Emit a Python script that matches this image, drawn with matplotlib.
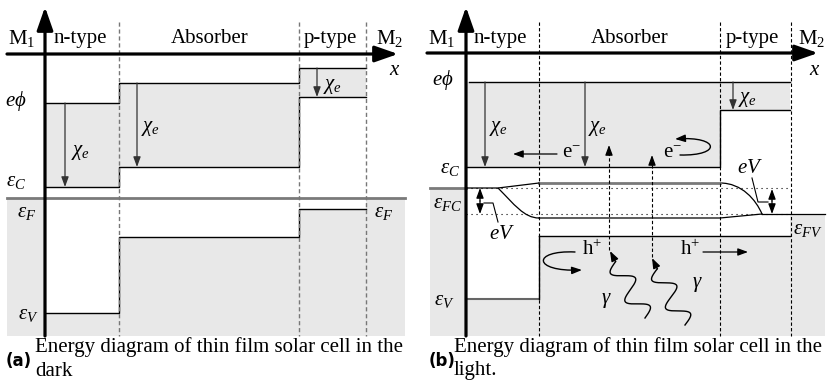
import numpy as np
import matplotlib.pyplot as plt
from matplotlib.patches import FancyArrowPatch, PathPatch
from matplotlib.path import Path

plt.rcParams['font.family'] = ['Liberation Serif', 'DejaVu Serif']
plt.rcParams['mathtext.fontset'] = 'custom'
plt.rcParams['mathtext.rm'] = 'Liberation Serif'
plt.rcParams['mathtext.it'] = 'Liberation Serif:italic'
plt.rcParams['mathtext.bf'] = 'Liberation Serif:bold'

FILL = '#e8e8e8'
FS = 15

# layer names across the top
layers = ['M$_1$', 'n-type', 'Absorber', 'p-type', 'M$_2$']

# (a) dark -- level positions (y grows downwards, image-like)
a_edges = [45, 119, 299, 366]       # axis | n | absorber | p | M2
a_vac = [103, 83, 68]                # e*phi per layer
a_cb = [187, 167, 97]                # conduction band
a_vb = [313, 237, 209]               # valence band
a_ef = 198                           # common Fermi level
a_name_x = [22, 80, 210, 330, 390]

# (b) light
b_edges = [466, 539, 720, 790]
b_vac = [82, 82, 82]
b_cb = [167, 167, 110]
b_vb = [299, 236, 236]
b_efc = [188, 183]                   # electron quasi-Fermi: contact, absorber
b_efv = [214, 218]                   # hole quasi-Fermi: contact, absorber
b_name_x = [442, 500, 630, 752, 812]

fig = plt.figure(figsize=(8.32, 3.92), dpi=100)
ax = fig.add_axes([0, 0, 1, 1])
ax.set_xlim(0, 832)
ax.set_ylim(392, 0)
ax.axis('off')


def ext(v):
    return list(v) + [v[-1]]


def arrow(p0, p1, lw=0.9, ms=10, style='-|>,head_length=0.6,head_width=0.22', color='k', z=5):
    ax.annotate('', xy=p1, xytext=p0,
                arrowprops=dict(arrowstyle=style, lw=lw, color=color, mutation_scale=ms,
                                shrinkA=0, shrinkB=0), zorder=z)


def axis_arrows(x0, x1, xa, y_top, y_bot, yx):
    st = '-|>,head_length=1.0,head_width=0.35'
    arrow((x0, yx), (x1, yx), lw=2.3, ms=14, style=st)
    arrow((xa, y_bot), (xa, y_top), lw=2.3, ms=14, style=st)


def bez(pts, **kw):
    p = Path(pts, [Path.MOVETO, Path.CURVE4, Path.CURVE4, Path.CURVE4])
    ax.add_patch(PathPatch(p, fc='none', **kw))


def loop(pts):
    p = Path(pts, [Path.MOVETO, Path.CURVE4, Path.CURVE4, Path.CURVE4])
    ax.add_patch(FancyArrowPatch(path=p, arrowstyle='-|>,head_length=0.6,head_width=0.22',
                                 mutation_scale=10, lw=1, color='k'))


def photon(tail, head, waves=2.0, amp=10):
    # wiggly photon line, straight bit + arrowhead at the end
    tail = np.array(tail, float)
    head = np.array(head, float)
    d = head - tail
    L = np.hypot(*d)
    u = d / L
    n = np.array([-u[1], u[0]])
    s = np.linspace(0, L - 12, 200)
    off = amp * np.sin(2 * np.pi * waves * s / (L - 12))
    pts = tail + np.outer(s, u) + np.outer(off, n)
    ax.plot(pts[:, 0], pts[:, 1], color='k', lw=1)
    arrow(tuple(pts[-1]), tuple(head), lw=1)


# ================= panel (a) =================
ax.fill_between(a_edges, ext(a_vac), ext(a_cb), step='post', color=FILL, lw=0)
ax.fill_between([7, a_edges[0]], a_ef, 336, color=FILL, lw=0)
ax.fill_between([a_edges[-1], 405], a_ef, 336, color=FILL, lw=0)
ax.fill_between(a_edges, ext(a_vb), 336, step='post', color=FILL, lw=0)
for lev in (a_vac, a_cb, a_vb):
    ax.step(a_edges, ext(lev), where='post', color='k', lw=1)
ax.plot([7, 405], [a_ef, a_ef], color='#7a7a7a', lw=2)
for x in a_edges[1:]:
    ax.plot([x, x], [22, 336], color='#777777', lw=1, ls=(0, (3, 2)))
axis_arrows(7, 398, a_edges[0], 7, 336, 54)

for x, i in [(65, 0), (137, 1), (317, 2)]:
    arrow((x, a_vac[i]), (x, a_cb[i]), color='#333333')
ax.text(81, 152, r'$\chi_e$', fontsize=FS, ha='center', va='center')
ax.text(151, 128, r'$\chi_e$', fontsize=FS, ha='center', va='center')
ax.text(333, 86, r'$\chi_e$', fontsize=FS, ha='center', va='center')

for name, x in zip(layers, a_name_x):
    ax.text(x, 38, name, fontsize=FS, ha='center', va='center')
ax.text(395, 70, r'$x$', fontsize=FS, ha='center', va='center')
ax.text(16, 101, r'$e\phi$', fontsize=FS, ha='center', va='center')
ax.text(16, 181, r'$\varepsilon_C$', fontsize=FS, ha='center', va='center')
ax.text(27, 212, r'$\varepsilon_F$', fontsize=FS, ha='center', va='center')
ax.text(28, 315, r'$\varepsilon_V$', fontsize=FS, ha='center', va='center')
ax.text(384, 212, r'$\varepsilon_F$', fontsize=FS, ha='center', va='center')

ax.text(6, 361, '(a)', fontsize=12, fontweight='bold', family='DejaVu Sans', va='center')
ax.text(35, 347, 'Energy diagram of thin film solar cell in the', fontsize=FS, va='center')
ax.text(35, 371, 'dark', fontsize=FS, va='center')

# ================= panel (b) =================
ax.fill_between(b_edges, ext(b_vac), ext(b_cb), step='post', color=FILL, lw=0)
ax.fill_between([430, b_edges[0]], b_efc[0], 336, color=FILL, lw=0)
ax.fill_between([b_edges[-1], 825], b_efv[0], 336, color=FILL, lw=0)
ax.fill_between(b_edges, ext(b_vb), 336, step='post', color=FILL, lw=0)
ax.plot([469, b_edges[-1]], [b_vac[0], b_vac[0]], color='k', lw=1)
ax.step(b_edges, ext(b_cb), where='post', color='k', lw=1)
ax.step(b_edges[1:], ext(b_vb[1:]), where='post', color='k', lw=1)
ax.plot(b_edges[:2], [b_vb[0]] * 2, color='#666666', lw=1.5)
ax.plot([b_edges[1]] * 2, b_vb[:2], color='k', lw=1)

# quasi-Fermi levels
for yy in (b_efc[0], b_efv[0]):
    ax.plot([b_edges[0], b_edges[-1]], [yy, yy], color='k', lw=0.8, ls=(0, (1, 3.5)))
ax.plot([430, b_edges[0]], [b_efc[0]] * 2, color='#7a7a7a', lw=2)
ax.plot([b_edges[1], b_edges[2]], [b_efc[1]] * 2, color='#7a7a7a', lw=2)
ax.plot([b_edges[0], 498, b_edges[1]], [b_efc[0], b_efc[0], b_efc[1]], color='k', lw=0.9)
bez([(b_edges[2], b_efc[1]), (742, b_efc[1]), (756, 200), (762, b_efv[0])], color='k', lw=0.9)
ax.plot([762, 825], [b_efv[0]] * 2, color='k', lw=0.9)
bez([(498, b_efc[0]), (514, 204), (524, b_efv[1]), (b_edges[1], b_efv[1])], color='k', lw=0.9)
ax.plot([b_edges[1], b_edges[2], 762], [b_efv[1], b_efv[1], b_efv[0]], color='k', lw=0.9)

for x in b_edges[1:3] + [791]:
    ax.plot([x, x], [22, 336], color='k', lw=0.8, ls=(0, (3, 2)))
axis_arrows(427, 818, b_edges[0], 7, 336, 53)

for x, i in [(485, 0), (585, 1), (733, 2)]:
    arrow((x, b_vac[i]), (x, b_cb[i]), color='#333333')
ax.text(499, 128, r'$\chi_e$', fontsize=FS, ha='center', va='center')
ax.text(598, 128, r'$\chi_e$', fontsize=FS, ha='center', va='center')
ax.text(748, 99, r'$\chi_e$', fontsize=FS, ha='center', va='center')

for name, x in zip(layers, b_name_x):
    ax.text(x, 38, name, fontsize=FS, ha='center', va='center')
ax.text(815, 70, r'$x$', fontsize=FS, ha='center', va='center')
ax.text(443, 80, r'$e\phi$', fontsize=FS, ha='center', va='center')
ax.text(450, 168, r'$\varepsilon_C$', fontsize=FS, ha='center', va='center')
ax.text(448, 203, r'$\varepsilon_{FC}$', fontsize=FS, ha='center', va='center')
ax.text(444, 300, r'$\varepsilon_V$', fontsize=FS, ha='center', va='center')
ax.text(808, 229, r'$\varepsilon_{FV}$', fontsize=FS, ha='center', va='center')

# electrons
ax.text(571, 153, r'e$^{-}$', fontsize=FS, ha='center', va='center')
arrow((557, 154), (513, 154))
ax.text(672, 153, r'e$^{-}$', fontsize=FS, ha='center', va='center')
loop([(680, 155), (722, 156), (720, 136), (675, 139)])

# holes
ax.text(592, 250, r'h$^{+}$', fontsize=FS, ha='center', va='center')
loop([(575, 252), (532, 250), (532, 272), (582, 270)])
ax.text(690, 250, r'h$^{+}$', fontsize=FS, ha='center', va='center')
arrow((703, 252), (748, 252))

# photon excitation
ax.plot([609, 609], [250, 152], color='k', lw=0.8, ls=(0, (3, 2)))
arrow((609, 155), (609, 145))
ax.plot([652, 652], [257, 162], color='k', lw=0.8, ls=(0, (3, 2)))
arrow((652, 165), (652, 155))
photon((645, 318), (610, 251))
photon((685, 325), (652, 258))
ax.text(606, 300, r'$\gamma$', fontsize=FS, ha='center', va='center')
ax.text(697, 285, r'$\gamma$', fontsize=FS, ha='center', va='center')

# eV markers
arrow((480, 201), (480, b_efc[0]))
arrow((480, 201), (480, b_efv[0]))
ax.plot([484, 493, 498], [203, 203, 222], color='k', lw=0.8)
ax.text(502, 234, r'$eV$', fontsize=FS, ha='center', va='center')
arrow((772, 201), (772, b_efc[0] + 1))
arrow((772, 201), (772, b_efv[0]))
ax.plot([752, 758, 768], [178, 202, 202], color='k', lw=0.8)
ax.text(750, 168, r'$eV$', fontsize=FS, ha='center', va='center')

ax.text(429, 361, '(b)', fontsize=12, fontweight='bold', family='DejaVu Sans', va='center')
ax.text(454, 347, 'Energy diagram of thin film solar cell in the', fontsize=FS, va='center')
ax.text(454, 371, 'light.', fontsize=FS, va='center')

fig.savefig('out.png', dpi=100)
